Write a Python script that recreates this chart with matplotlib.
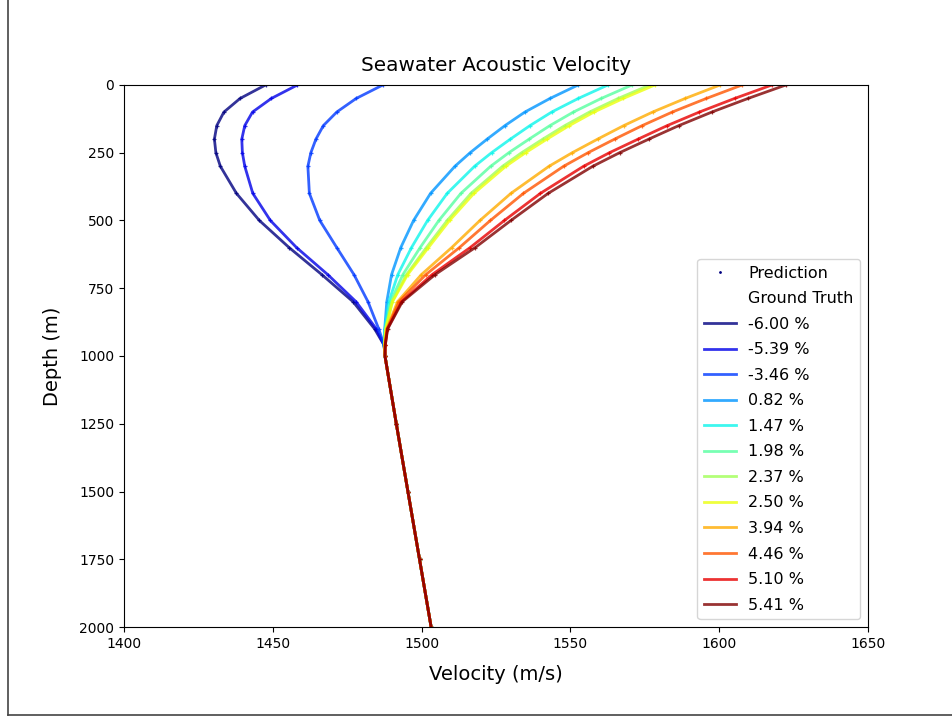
import numpy as np
import matplotlib.pyplot as plt
from matplotlib.lines import Line2D

# Depth samples (m) shared by every profile
depth = [0, 50, 100, 150, 200, 250, 300, 400, 500, 600, 700, 800, 900, 960,
         1000, 1250, 1500, 1750, 2000]

# Deep part of the profiles, identical for all cases (m/s)
deep = [1487.7, 1491.5, 1495.4, 1499.3, 1503.2]

labels = ['-6.00 %', '-5.39 %', '-3.46 %', '0.82 %', '1.47 %', '1.98 %',
          '2.37 %', '2.50 %', '3.94 %', '4.46 %', '5.10 %', '5.41 %']

# Upper part of the profiles (0 - 960 m) in m/s
v_m600 = [1447.6, 1439.0, 1433.6, 1431.2, 1430.4, 1430.9, 1432.4, 1437.8, 1445.5, 1455.5, 1466.5, 1477.0, 1484.2, 1487.4]
v_m539 = [1458.3, 1449.5, 1443.2, 1440.6, 1439.6, 1439.8, 1440.6, 1443.3, 1449.2, 1458.0, 1468.5, 1478.0, 1484.8, 1487.4]
v_m346 = [1487.0, 1478.0, 1471.5, 1467.0, 1464.5, 1462.8, 1461.8, 1462.3, 1465.8, 1471.5, 1477.3, 1482.0, 1485.6, 1487.4]
v_p082 = [1552.6, 1543.1, 1534.7, 1528.0, 1522.0, 1516.3, 1511.2, 1503.0, 1497.3, 1493.0, 1489.9, 1488.3, 1487.6, 1487.4]
v_p147 = [1562.6, 1552.6, 1543.7, 1536.4, 1529.8, 1523.5, 1517.8, 1508.6, 1502.0, 1496.6, 1492.0, 1489.0, 1487.7, 1487.4]
v_p198 = [1570.7, 1560.3, 1551.0, 1543.1, 1536.1, 1529.3, 1523.2, 1513.2, 1505.8, 1499.5, 1493.7, 1489.6, 1487.9, 1487.5]
v_p237 = [1576.7, 1566.0, 1556.4, 1548.1, 1540.7, 1533.6, 1527.2, 1516.6, 1508.6, 1501.6, 1494.9, 1490.1, 1487.9, 1487.5]
v_p250 = [1578.4, 1567.7, 1557.9, 1549.6, 1542.1, 1534.9, 1528.3, 1517.6, 1509.4, 1502.3, 1495.3, 1490.2, 1488.0, 1487.5]
v_p394 = [1600.3, 1588.5, 1577.6, 1567.9, 1559.1, 1550.6, 1542.8, 1530.0, 1519.6, 1510.1, 1499.9, 1491.9, 1488.3, 1487.7]
v_p446 = [1607.7, 1595.6, 1584.2, 1574.1, 1564.8, 1555.9, 1547.7, 1534.2, 1523.1, 1512.7, 1501.4, 1492.4, 1488.4, 1487.7]
v_p510 = [1617.7, 1605.1, 1593.3, 1582.5, 1572.7, 1563.1, 1554.4, 1539.9, 1527.8, 1516.3, 1503.5, 1493.2, 1488.5, 1487.8]
v_p541 = [1622.4, 1609.6, 1597.5, 1586.4, 1576.3, 1566.5, 1557.5, 1542.5, 1530.0, 1518.0, 1504.5, 1493.5, 1488.6, 1487.8]

upper = [v_m600, v_m539, v_m346, v_p082, v_p147, v_p198, v_p237, v_p250,
         v_p394, v_p446, v_p510, v_p541]

colors = plt.cm.jet(np.linspace(0, 1, len(labels)))

fig = plt.figure(figsize=(9.53, 7.18), dpi=100)
ax = fig.add_axes([0.130, 0.1267, 0.781, 0.755])

line_handles = []
for i, (v_top, lab) in enumerate(zip(upper, labels)):
    vel = v_top + deep
    ax.scatter(vel, depth, marker='+', s=10, lw=0.9, color=colors[i], alpha=0.8)
    ln, = ax.plot(vel, depth, color=colors[i], lw=2, alpha=0.8, label=lab)
    line_handles.append(ln)

pred_handle = Line2D([], [], ls='', marker='.', ms=2, color=colors[0])
gt_handle = Line2D([], [], ls='', marker='')
ax.legend([pred_handle, gt_handle] + line_handles,
          ['Prediction', 'Ground Truth'] + labels,
          loc='lower right', fontsize=11.5, labelspacing=0.66)

ax.set_xlim(1400, 1650)
ax.set_ylim(2000, 0)
ax.set_xticks([1400, 1450, 1500, 1550, 1600, 1650])
ax.set_yticks([0, 250, 500, 750, 1000, 1250, 1500, 1750, 2000])
ax.tick_params(labelsize=10)
ax.set_title('Seawater Acoustic Velocity', fontsize=14.4, pad=10)
ax.set_xlabel('Velocity (m/s)', fontsize=14, labelpad=10)
ax.set_ylabel('Depth (m)', fontsize=14, labelpad=12)

# thin frame on the left and bottom edge of the figure
fig.add_artist(Line2D([8 / 953, 8 / 953], [0.004, 1], transform=fig.transFigure,
                      color='#444444', lw=1.2))
fig.add_artist(Line2D([8 / 953, 1], [0.004, 0.004], transform=fig.transFigure,
                      color='#444444', lw=1.2))

fig.savefig('out.png', dpi=100)
